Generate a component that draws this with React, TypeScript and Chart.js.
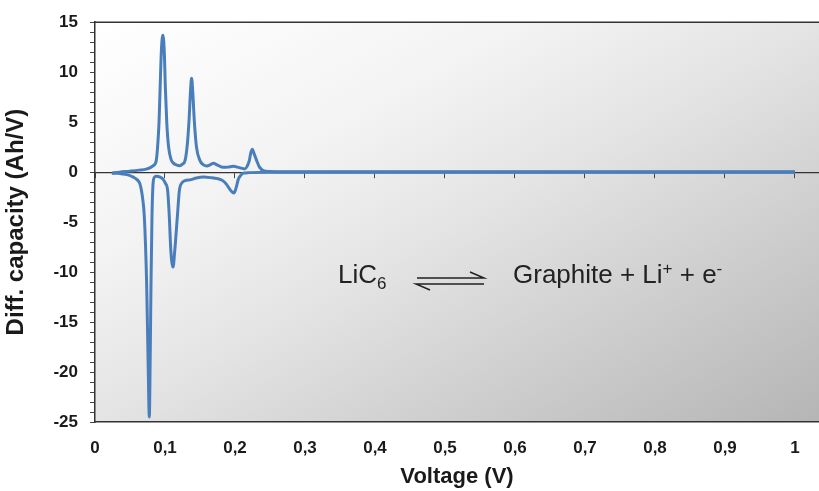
import React, { useEffect, useRef } from 'react';
import { Chart, registerables } from 'chart.js';

Chart.register(...registerables);

// ---- Data ----
const chargeVoltage = [
  0.024, 0.035, 0.05, 0.063, 0.073, 0.079, 0.0833, 0.0875, 0.0895, 0.0915,
  0.0935, 0.095, 0.097, 0.099, 0.1005, 0.1025, 0.105, 0.1085, 0.112, 0.117,
  0.121, 0.125, 0.1286, 0.1315, 0.1343, 0.1365, 0.138, 0.1395, 0.1419, 0.145,
  0.15, 0.155, 0.16, 0.165, 0.169, 0.175, 0.183, 0.19, 0.1976, 0.206,
  0.214, 0.2175, 0.2204, 0.2225, 0.2247, 0.227, 0.231, 0.235, 0.2405, 0.25,
  0.27, 0.35, 0.5, 0.7, 1.0,
];
const chargeCapacity = [
  -0.1, 0.0, 0.1, 0.2, 0.3, 0.45, 0.65, 1.15, 2.6, 5.0,
  9.5, 12.4, 13.7, 12.0, 8.5, 5.0, 2.6, 1.3, 0.9, 0.7,
  0.65, 0.8, 1.15, 2.5, 5.1, 8.2, 9.4, 8.2, 5.1, 2.5,
  1.15, 0.72, 0.62, 0.75, 0.88, 0.7, 0.48, 0.5, 0.58, 0.45,
  0.32, 0.6, 1.15, 1.9, 2.3, 1.9, 1.15, 0.5, 0.15, 0.07,
  0.04, 0.03, 0.03, 0.03, 0.03,
];
const dischargeVoltage = [
  0.024, 0.033, 0.0405, 0.048, 0.0547, 0.06, 0.0643, 0.068, 0.0705, 0.0738,
  0.076, 0.0776, 0.0788, 0.08, 0.0814, 0.0829, 0.085, 0.088, 0.093, 0.097,
  0.1005, 0.1038, 0.1062, 0.1083, 0.1115, 0.114, 0.1176, 0.1205, 0.1245, 0.1286,
  0.137, 0.145, 0.155, 0.165, 0.175, 0.1825, 0.1876, 0.1935, 0.1986, 0.2015,
  0.2048, 0.2085, 0.2119, 0.22, 0.25, 0.4, 0.7, 1.0,
];
const dischargeCapacity = [
  -0.1, -0.12, -0.2, -0.3, -0.5, -0.75, -1.2, -2.6, -4.5, -11.2,
  -19.5, -24.5, -19.0, -11.2, -4.5, -1.2, -0.5, -0.42, -0.5, -0.7,
  -1.1, -1.85, -4.5, -7.8, -9.5, -7.8, -4.5, -1.85, -1.05, -0.85,
  -0.75, -0.58, -0.5, -0.55, -0.65, -0.85, -1.2, -1.8, -2.1, -1.6,
  -0.7, -0.3, -0.1, -0.05, -0.02, -0.02, -0.02, -0.02,
];
const xTickLabels = ['0', '0,1', '0,2', '0,3', '0,4', '0,5', '0,6', '0,7', '0,8', '0,9', '1'];
const yMajorStep = 5;

const FONT = "'Liberation Sans', Arial, Helvetica, sans-serif";
const LINE_BLUE = '#4a7ebb';
const TEXT = '#1a1a1a';

const backgroundPlugin = {
  id: 'plotBackground',
  beforeDraw(chart: any) {
    const { ctx, chartArea: a } = chart;
    const w = a.right - a.left;
    const h = a.bottom - a.top;
    const k = (2 * w * h) / (w * w + h * h);
    ctx.save();
    const g = ctx.createLinearGradient(a.left, a.top, a.left + h * k, a.top + w * k);
    g.addColorStop(0, '#ffffff');
    g.addColorStop(0.3, '#f3f3f3');
    g.addColorStop(0.5, '#e4e4e4');
    g.addColorStop(1, '#b5b5b5');
    ctx.fillStyle = g;
    ctx.fillRect(a.left, a.top, w, h);
    ctx.strokeStyle = '#333';
    ctx.lineWidth = 1.5;
    ctx.beginPath();
    ctx.moveTo(a.left, a.top);
    ctx.lineTo(a.right, a.top);
    ctx.stroke();
    ctx.restore();
  },
};

const annotationPlugin = {
  id: 'reactionLabel',
  afterDatasetsDraw(chart: any) {
    const { ctx } = chart;
    ctx.save();
    ctx.fillStyle = '#222';
    ctx.strokeStyle = '#222';
    ctx.textBaseline = 'alphabetic';
    ctx.textAlign = 'left';
    const big = `26px ${FONT}`;
    const small = `17px ${FONT}`;
    const base = 283;
    // LiC6
    ctx.font = big;
    ctx.fillText('LiC', 338, base);
    let x = 338 + ctx.measureText('LiC').width;
    ctx.font = small;
    ctx.fillText('6', x, base + 6);
    // Equilibrium arrows (harpoons)
    ctx.lineWidth = 1.5;
    ctx.beginPath();
    ctx.moveTo(417, 278);
    ctx.lineTo(484, 278);
    ctx.lineTo(470, 272);
    ctx.moveTo(430, 290);
    ctx.lineTo(416, 284);
    ctx.lineTo(484, 284);
    ctx.stroke();
    // Graphite + Li+ + e-
    ctx.font = big;
    x = 513;
    ctx.fillText('Graphite + Li', x, base);
    x += ctx.measureText('Graphite + Li').width;
    ctx.font = small;
    ctx.fillText('+', x, base - 9);
    x += ctx.measureText('+').width;
    ctx.font = big;
    ctx.fillText(' + e', x, base);
    x += ctx.measureText(' + e').width;
    ctx.font = small;
    ctx.fillText('-', x, base - 9);
    ctx.restore();
  },
};

export default function App() {
  const ref = useRef<HTMLCanvasElement>(null);

  useEffect(() => {
    document.body.style.margin = '0';
    const chargeData = chargeVoltage.map((v, i) => ({ x: v, y: chargeCapacity[i] }));
    const dischargeData = dischargeVoltage.map((v, i) => ({ x: v, y: dischargeCapacity[i] }));
    const tickFont = { family: FONT, size: 17, weight: 'bold' as const };
    const chart = new Chart(ref.current as HTMLCanvasElement, {
      type: 'line',
      data: {
        datasets: [
          {
            label: 'Delithiation',
            data: chargeData,
            borderColor: LINE_BLUE,
            borderWidth: 3,
            pointRadius: 0,
            cubicInterpolationMode: 'monotone',
            fill: false,
          },
          {
            label: 'Lithiation',
            data: dischargeData,
            borderColor: LINE_BLUE,
            borderWidth: 3,
            pointRadius: 0,
            cubicInterpolationMode: 'monotone',
            fill: false,
          },
        ],
      },
      options: {
        responsive: false,
        animation: false,
        layout: { padding: { top: 21, right: 0, left: 0, bottom: 0 } },
        plugins: { legend: { display: false }, tooltip: { enabled: false } },
        scales: {
          x: {
            type: 'linear',
            position: 'bottom',
            min: 0,
            max: 1.0343,
            ticks: {
              stepSize: 0.1,
              includeBounds: false,
              autoSkip: false,
              maxRotation: 0,
              padding: 16,
              color: TEXT,
              font: tickFont,
              callback: (_v: any, i: number) => xTickLabels[i] ?? '',
            },
            grid: { display: false, drawTicks: false },
            border: { display: true, color: '#333', width: 1.5 },
            title: {
              display: true,
              text: 'Voltage (V)',
              color: TEXT,
              font: { family: FONT, size: 22, weight: 'bold' },
              padding: { top: 0, bottom: 1 },
            },
            afterFit: (s: any) => {
              s.height = 69;
            },
          },
          x2: {
            type: 'linear',
            position: { y: 0 },
            min: 0,
            max: 1.0343,
            ticks: { stepSize: 0.1, includeBounds: false, display: false },
            grid: { drawOnChartArea: false, drawTicks: true, tickLength: 5, color: '#444' },
            border: { display: true, color: '#333', width: 1.2 },
          },
          y: {
            type: 'linear',
            position: 'left',
            min: -25,
            max: 15,
            ticks: {
              stepSize: 1,
              autoSkip: false,
              padding: 12,
              color: TEXT,
              font: tickFont,
              callback: (v: any) => (Math.round(Number(v)) % yMajorStep === 0 ? String(Math.round(Number(v))) : ''),
            },
            grid: { drawOnChartArea: false, drawTicks: true, tickLength: 5, color: '#444' },
            border: { display: true, color: '#333', width: 1.5 },
            title: {
              display: true,
              text: 'Diff. capacity (Ah/V)',
              color: TEXT,
              font: { family: FONT, size: 24, weight: 'bold' },
              padding: { top: 2, bottom: 0 },
            },
            afterFit: (s: any) => {
              s.width = 95;
            },
          },
        },
      } as any,
      plugins: [backgroundPlugin, annotationPlugin],
    });
    return () => chart.destroy();
  }, []);

  return (
    <div style={{ width: 819, height: 491 }}>
      <canvas ref={ref} width={819} height={491} style={{ display: 'block', width: 819, height: 491 }} />
    </div>
  );
}
